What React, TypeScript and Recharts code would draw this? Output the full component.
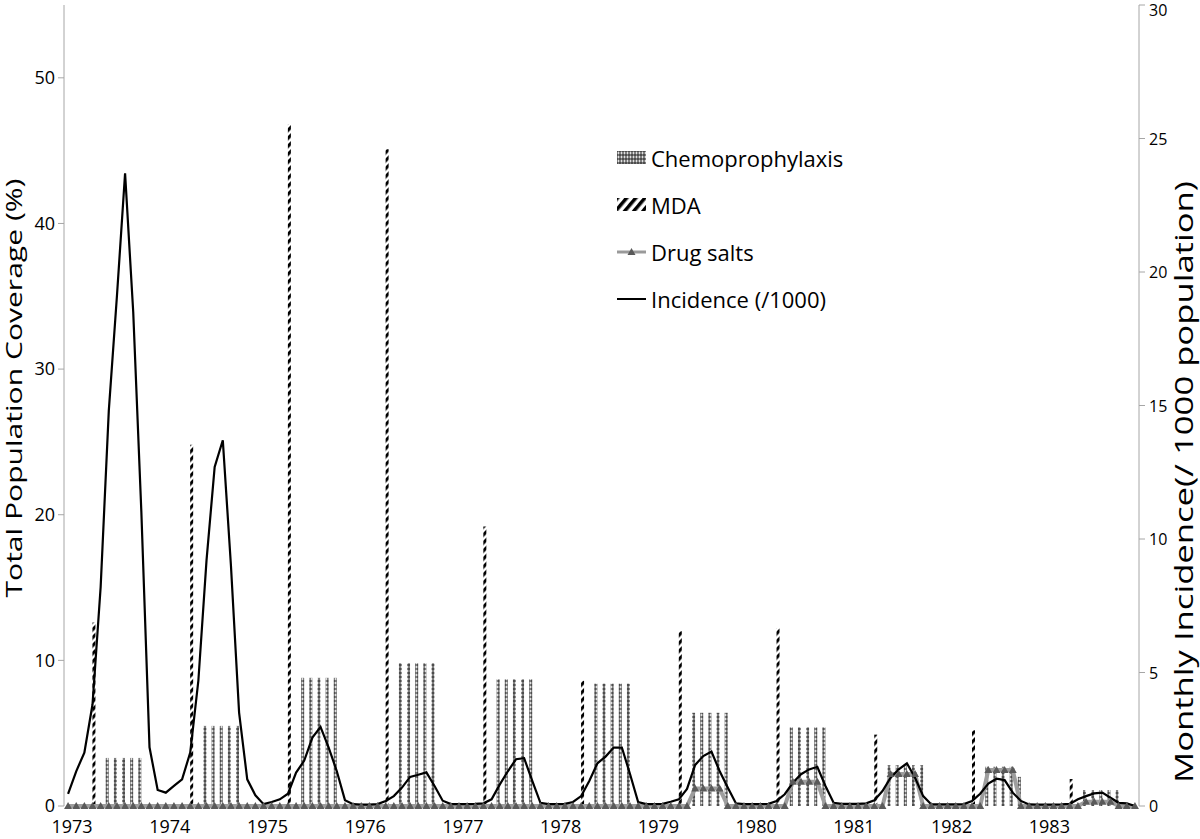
import React from 'react';
import { ComposedChart, Bar, Line, XAxis, YAxis, Legend } from 'recharts';

// ---- data ----
const years = ['1973', '1974', '1975', '1976', '1977', '1978', '1979', '1980', '1981', '1982', '1983'];
const monthCodes = ['01', '02', '03', '04', '05', '06', '07', '08', '09', '10', '11', '12'];

// Monthly incidence (/1000 population), right axis
const incidence = [
  0.45, 1.3, 2.0, 3.8, 8.2, 14.8, 19.1, 23.7, 18.5, 11.0, 2.2, 0.6, // 1973
  0.5, 0.75, 1.0, 2.0, 4.7, 9.2, 12.7, 13.7, 9.0, 3.5, 1.0, 0.4, // 1974
  0.07, 0.15, 0.25, 0.46, 1.25, 1.7, 2.56, 2.96, 2.19, 1.3, 0.22, 0.07, // 1975
  0.05, 0.05, 0.07, 0.19, 0.37, 0.69, 1.09, 1.17, 1.26, 0.75, 0.2, 0.07, // 1976
  0.07, 0.07, 0.08, 0.1, 0.25, 0.8, 1.3, 1.75, 1.79, 0.94, 0.12, 0.07, // 1977
  0.07, 0.08, 0.15, 0.37, 0.94, 1.6, 1.85, 2.19, 2.19, 1.2, 0.15, 0.07, // 1978
  0.07, 0.08, 0.16, 0.25, 0.64, 1.54, 1.87, 2.04, 1.31, 0.69, 0.1, 0.07, // 1979
  0.07, 0.07, 0.08, 0.19, 0.44, 0.87, 1.19, 1.37, 1.47, 0.75, 0.12, 0.08, // 1980
  0.08, 0.08, 0.1, 0.21, 0.56, 1.06, 1.37, 1.6, 1.06, 0.37, 0.06, 0.06, // 1981
  0.06, 0.06, 0.07, 0.19, 0.46, 0.84, 1.02, 0.97, 0.5, 0.19, 0.06, 0.05, // 1982
  0.05, 0.05, 0.06, 0.08, 0.25, 0.37, 0.47, 0.5, 0.31, 0.12, 0.1, 0.0, // 1983
];

// Chemoprophylaxis coverage (%), June–October each year
const chemoMonths = [5, 6, 7, 8, 9];
const chemoprophylaxis = [
  [3.3, 3.3, 3.3, 3.3, 3.3],
  [5.5, 5.5, 5.5, 5.5, 5.5],
  [8.8, 8.8, 8.8, 8.8, 8.8],
  [9.8, 9.8, 9.8, 9.8, 9.8],
  [8.7, 8.7, 8.7, 8.7, 8.7],
  [8.4, 8.4, 8.4, 8.4, 8.4],
  [6.4, 6.4, 6.4, 6.4, 6.4],
  [5.4, 5.4, 5.4, 5.4, 5.4],
  [2.8, 2.8, 2.8, 2.8, 2.8],
  [2.7, 2.7, 2.7, 2.7, 2.0],
  [1.1, 1.1, 1.1, 1.1, 1.1],
];

// MDA coverage (%), April each year
const mdaMonth = 3;
const mda = [12.6, 24.8, 46.8, 45.1, 19.2, 8.6, 12.0, 12.2, 4.9, 5.2, 1.85];

// Drug salts coverage (%), June–September each year (0 otherwise)
const drugSaltMonths = [5, 6, 7, 8];
const drugSalts = [0, 0, 0, 0, 0, 0, 1.2, 1.67, 2.2, 2.47, 0.3];

const leftTicks = [0, 10, 20, 30, 40, 50];
const rightTicks = [0, 5, 10, 15, 20, 25, 30];

// ---- table for the chart ----
const data = years.flatMap((y, yi) =>
  monthCodes.map((m, mi) => {
    const ci = chemoMonths.indexOf(mi);
    const di = drugSaltMonths.indexOf(mi);
    return {
      month: `${y}-${m}`,
      chemo: ci >= 0 ? chemoprophylaxis[yi][ci] : null,
      mda: mi === mdaMonth ? mda[yi] : null,
      salts: di >= 0 ? drugSalts[yi] : 0,
      incidence: incidence[yi * 12 + mi],
    };
  })
);

const FONT = '"Open Sans", "DejaVu Sans", sans-serif';
const AXIS = '#a6a6a6';

const XTick = (props: any) => {
  const { x, y, payload } = props;
  return (
    <text x={x + 4} y={y + 27} textAnchor="middle" fontSize={18} fill="#000" fontFamily={FONT}>
      {String(payload.value).slice(0, 4)}
    </text>
  );
};

const RightTick = (props: any) => {
  const { x, y, payload } = props;
  return (
    <text x={x + 4} y={Math.max(y + 6, 16)} textAnchor="start" fontSize={16} fill="#000" fontFamily={FONT}>
      {payload.value}
    </text>
  );
};

const Tri = (props: any) => {
  const { cx, cy, index } = props;
  if (cx == null || cy == null) return null;
  return (
    <path
      key={`t-${index}`}
      d={`M${cx},${cy - 4} L${cx + 4},${cy + 3} L${cx - 4},${cy + 3} Z`}
      fill="#5a5a5a"
    />
  );
};

const LegendBox = () => {
  const row: React.CSSProperties = {
    display: 'flex',
    alignItems: 'center',
    height: 47,
    fontSize: 22,
    fontFamily: FONT,
    color: '#000',
    whiteSpace: 'nowrap',
  };
  return (
    <div>
      <div style={row}>
        <svg width={35} height={16}>
          <rect x={1} y={1} width={29} height={13} fill="url(#chemoPat)" />
        </svg>
        <span>Chemoprophylaxis</span>
      </div>
      <div style={row}>
        <svg width={35} height={16}>
          <rect x={1} y={1} width={29} height={13} fill="url(#mdaLegPat)" />
        </svg>
        <span>MDA</span>
      </div>
      <div style={row}>
        <svg width={35} height={16}>
          <line x1={1} y1={8} x2={30} y2={8} stroke="#9a9a9a" strokeWidth={3} />
          <path d="M15.5,4 L19.5,11 L11.5,11 Z" fill="#5a5a5a" />
        </svg>
        <span>Drug salts</span>
      </div>
      <div style={row}>
        <svg width={35} height={16}>
          <line x1={1} y1={8} x2={30} y2={8} stroke="#000" strokeWidth={2} />
        </svg>
        <span>Incidence (/1000)</span>
      </div>
    </div>
  );
};

export default function App() {
  return (
    <div style={{ position: 'absolute', left: 0, top: 0, width: 1200, height: 839, background: '#fff' }}>
      <svg width={0} height={0} style={{ position: 'absolute' }}>
        <defs>
          <pattern id="chemoPat" width={3} height={4} patternUnits="userSpaceOnUse">
            <rect width={3} height={4} fill="#808080" />
            <rect x={0} y={0} width={2} height={2} fill="#4d4d4d" />
            <rect x={2} y={2} width={1} height={2} fill="#e0e0e0" />
          </pattern>
          <pattern id="mdaPat" width={3} height={8} patternUnits="userSpaceOnUse" patternTransform="skewY(-45)">
            <rect width={3} height={8} fill="#fff" />
            <rect x={0} y={0} width={3} height={4.5} fill="#000" />
          </pattern>
          <pattern id="mdaLegPat" width={7} height={7} patternUnits="userSpaceOnUse" patternTransform="rotate(40)">
            <rect width={7} height={7} fill="#fff" />
            <rect width={3.5} height={7} fill="#000" />
          </pattern>
        </defs>
      </svg>
      <ComposedChart
        width={1200}
        height={839}
        data={data}
        margin={{ top: 5, right: 0, bottom: 0, left: 0 }}
        barGap={0}
        barCategoryGap={0}
        style={{ fontFamily: FONT }}
      >
        <XAxis
          dataKey="month"
          interval={11}
          tickLine={false}
          axisLine={false}
          tickSize={0}
          tickMargin={0}
          height={33}
          tick={<XTick />}
        />
        <YAxis
          yAxisId="left"
          orientation="left"
          width={64}
          domain={[0, 55]}
          ticks={leftTicks}
          interval={0}
          stroke={AXIS}
          tickSize={6}
          tickMargin={3}
          tick={{ fill: '#000', fontSize: 18, fontFamily: FONT }}
        />
        <YAxis
          yAxisId="right"
          orientation="right"
          width={61}
          domain={[0, 30]}
          ticks={rightTicks}
          interval={0}
          stroke={AXIS}
          tickSize={6}
          tickMargin={0}
          tick={<RightTick />}
        />
        <Bar yAxisId="left" dataKey="chemo" name="Chemoprophylaxis" barSize={3} fill="url(#chemoPat)" isAnimationActive={false} />
        <Bar yAxisId="left" dataKey="mda" name="MDA" barSize={3} fill="url(#mdaPat)" isAnimationActive={false} />
        <Line
          yAxisId="left"
          type="linear"
          dataKey="salts"
          name="Drug salts"
          stroke="#9e9e9e"
          strokeWidth={4}
          dot={<Tri />}
          activeDot={false}
          isAnimationActive={false}
        />
        <Line
          yAxisId="right"
          type="linear"
          dataKey="incidence"
          name="Incidence (/1000)"
          stroke="#000"
          strokeWidth={2.2}
          dot={false}
          activeDot={false}
          isAnimationActive={false}
        />
        <Legend
          layout="vertical"
          align="center"
          verticalAlign="middle"
          content={<LegendBox />}
          wrapperStyle={{ position: 'absolute', left: 616, top: 134, width: 280, height: 190 }}
        />
        <text
          x={22}
          y={388}
          transform="rotate(-90 22 388)"
          textAnchor="middle"
          fontSize={21}
          fontFamily={FONT}
          fill="#000"
          textLength={419}
          lengthAdjust="spacingAndGlyphs"
        >
          Total Population Coverage (%)
        </text>
        <text
          x={1193}
          y={482}
          transform="rotate(-90 1193 482)"
          textAnchor="middle"
          fontSize={25}
          fontFamily={FONT}
          fill="#000"
          textLength={602}
          lengthAdjust="spacingAndGlyphs"
        >
          Monthly Incidence(/ 1000 population)
        </text>
      </ComposedChart>
    </div>
  );
}
